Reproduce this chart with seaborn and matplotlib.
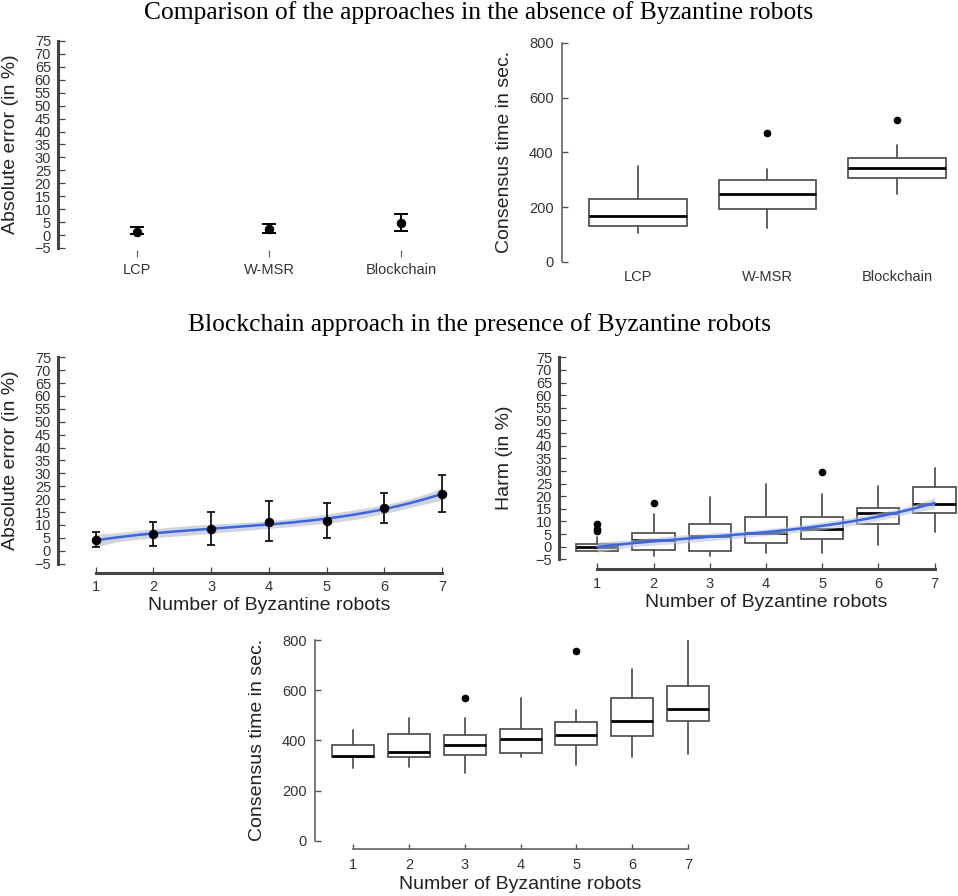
import numpy as np
import pandas as pd
import matplotlib
matplotlib.use("Agg")
import matplotlib.pyplot as plt
import seaborn as sns

# ---------------- data ----------------
methods = ["LCP", "W-MSR", "Blockchain"]
err_mean = [1.3, 2.3, 4.65]
err_low = [0.3, 0.9, 1.5]
err_high = [3.0, 4.4, 8.3]

time_q1 = [130, 194, 307]
time_med = [167, 249, 344]
time_q3 = [230, 299, 380]
time_lo = [106, 122, 246]
time_hi = [351, 340, 428]
time_out = [[], [469], [519]]

byz = [1, 2, 3, 4, 5, 6, 7]
byz_err_mean = [4.15, 6.4, 8.4, 11.1, 11.5, 16.5, 22.0]
byz_err_low = [1.3, 1.8, 2.2, 3.6, 4.8, 10.8, 14.9]
byz_err_high = [7.1, 11.1, 15.0, 19.4, 18.6, 22.5, 29.4]

harm_q1 = [-1.6, -1.3, -1.8, 1.3, 3.2, 9.1, 13.2]
harm_med = [-0.3, 2.5, 4.1, 5.6, 7.1, 13.4, 16.8]
harm_q3 = [0.9, 5.3, 9.0, 11.9, 11.9, 15.2, 23.8]
harm_lo = [-1.6, -3.7, -3.7, -2.6, -2.6, 0.8, 6.0]
harm_hi = [4.0, 13.1, 19.6, 24.9, 21.0, 24.1, 31.0]
harm_out = [[6.4, 6.9, 9.1], [17.3], [], [], [29.5], [], []]

bt_q1 = [335, 333, 341, 348, 383, 416, 476]
bt_med = [338, 352, 380, 404, 421, 476, 523]
bt_q3 = [380, 426, 420, 444, 473, 570, 616]
bt_lo = [288, 292, 271, 335, 302, 335, 345]
bt_hi = [441, 490, 490, 567, 521, 683, 803]
bt_out = [[], [], [567], [], [757], [], []]

title_top = "Comparison of the approaches in the absence of Byzantine robots"
title_mid = "Blockchain approach in the presence of Byzantine robots"
err_label = "Absolute error (in %)"
time_label = "Consensus time in sec."
harm_label = "Harm (in %)"
byz_label = "Number of Byzantine robots"

# ---------------- style ----------------
sns.set_theme(style="white")
plt.rcParams['font.family'] = ['Liberation Sans', 'DejaVu Sans']
plt.rcParams['axes.unicode_minus'] = True

W, H = 958, 896
fig = plt.figure(figsize=(W / 100, H / 100), dpi=100)

TICK_C = "#333333"
LAB_C = "#222222"
TICK_FS = 10.5
T_QUANT = 3.18  # t(0.975, df=3) for the smoother band


def add_ax(left, right, top, bottom):
    return fig.add_axes([left / W, 1 - bottom / H, (right - left) / W, (bottom - top) / H])


def bxp_stats(q1, med, q3, lo, hi, out):
    return [dict(q1=a, med=b, q3=c, whislo=d, whishi=e, fliers=f)
            for a, b, c, d, e, f in zip(q1, med, q3, lo, hi, out)]


def draw_boxes(ax, stats, positions, width):
    ax.bxp(stats, positions=positions, widths=width, showcaps=False,
           patch_artist=True,
           boxprops=dict(facecolor="white", edgecolor="#555555", linewidth=1.3),
           medianprops=dict(color="black", linewidth=2.0),
           whiskerprops=dict(color="#555555", linewidth=1.3),
           flierprops=dict(marker="o", markerfacecolor="black", markeredgecolor="black",
                           markersize=4.5, linestyle="none"))


def fit_curve(xv, yv, deg=3):
    xv = np.asarray(xv, float)
    yv = np.asarray(yv, float)
    coef, cov = np.polyfit(xv, yv, deg, cov=True)
    xs = np.linspace(xv.min(), xv.max(), 200)
    V = np.vander(xs, deg + 1)
    ys = V @ coef
    se = np.sqrt(np.einsum("ij,jk,ik->i", V, cov, V))
    return xs, ys, se


def thick_left_axis(ax):
    sns.despine(ax=ax, top=True, right=True)
    ax.spines['left'].set_linewidth(2.2)
    ax.spines['left'].set_color("#444444")
    ax.spines['left'].set_bounds(-5, 75)
    ax.set_yticks(np.arange(-5, 80, 5))
    ax.tick_params(axis='y', direction='in', length=5, width=0.9, color="#444444",
                   labelsize=TICK_FS, labelcolor=TICK_C, pad=5, left=True)


# ---------------- top-left: absolute error, no Byzantine ----------------
L, R, T, B = 58, 480, 41, 257
ax1 = add_ax(L, R, T, B)
ax1.set_xlim(0.4, 3.6)
ax1.set_ylim(-8.5, 75)
pos3 = np.arange(1, 4)
ax1.errorbar(pos3, err_mean,
             yerr=[np.array(err_mean) - np.array(err_low), np.array(err_high) - np.array(err_mean)],
             fmt='none', ecolor="black", elinewidth=1.4, capsize=5, capthick=1.4)
sns.scatterplot(x=pos3, y=err_mean, ax=ax1, color="black", s=40, edgecolor="black", zorder=3)
thick_left_axis(ax1)
ax1.spines['bottom'].set_visible(False)
ax1.set_xticks(pos3)
ax1.set_xticklabels(methods)
ax1.tick_params(axis='x', direction='in', length=5, width=0.9, color="#666666",
                labelsize=TICK_FS, labelcolor=TICK_C, pad=4, bottom=True)
ax1.set_ylabel(err_label, fontsize=14, color=LAB_C)
ax1.yaxis.set_label_coords((19 - L) / (R - L), (B - 144.5) / (B - T))

# ---------------- top-right: consensus time, no Byzantine ----------------
L, R, T, B = 562, 955, 43, 261.7
ax2 = add_ax(L, R, T, B)
draw_boxes(ax2, bxp_stats(time_q1, time_med, time_q3, time_lo, time_hi, time_out), pos3, 0.75)
ax2.set_xlim(0.413, 3.448)
ax2.set_ylim(0, 800)
sns.despine(ax=ax2, top=True, right=True, bottom=True)
ax2.spines['left'].set_linewidth(1.1)
ax2.spines['left'].set_color("#555555")
ax2.spines['left'].set_bounds(0, 800)
ax2.set_yticks([0, 200, 400, 600, 800])
ax2.set_xticks(pos3)
ax2.set_xticklabels(methods)
ax2.tick_params(axis='y', direction='in', length=4, width=1.0, color="#555555",
                labelsize=TICK_FS, labelcolor=TICK_C, pad=6, left=True)
ax2.tick_params(axis='x', length=0, labelsize=TICK_FS, labelcolor=TICK_C, pad=6)
ax2.set_ylabel(time_label, fontsize=14, color=LAB_C)
ax2.yaxis.set_label_coords((513 - L) / (R - L), 0.5)

# ---------------- middle-left: absolute error vs Byzantine ----------------
L, R, T, B = 58, 480, 357.3, 573.3
ax3 = add_ax(L, R, T, B)
ax3.set_xlim(0.347, 7.66)
ax3.set_ylim(-8.76, 75)
xs, ys, se = fit_curve(byz, byz_err_mean)
ax3.fill_between(xs, ys - T_QUANT * se, ys + T_QUANT * se, color="#c4c4c4", alpha=0.7, lw=0, zorder=1)
sns.lineplot(x=xs, y=ys, ax=ax3, color="#3366FF", lw=1.8, zorder=2)
ax3.errorbar(byz, byz_err_mean,
             yerr=[np.array(byz_err_mean) - np.array(byz_err_low),
                   np.array(byz_err_high) - np.array(byz_err_mean)],
             fmt='none', ecolor="#111111", elinewidth=1.3, capsize=3, capthick=1.3, zorder=3)
sns.scatterplot(x=byz, y=byz_err_mean, ax=ax3, color="black", s=40, edgecolor="black", zorder=4)
thick_left_axis(ax3)
ax3.spines['bottom'].set_linewidth(2.2)
ax3.spines['bottom'].set_color("#444444")
ax3.spines['bottom'].set_bounds(1, 7)
ax3.set_xticks(byz)
ax3.tick_params(axis='x', direction='in', length=4.5, width=0.9, color="#444444",
                labelsize=TICK_FS, labelcolor=TICK_C, pad=5, bottom=True)
ax3.set_ylabel(err_label, fontsize=14, color=LAB_C)
ax3.yaxis.set_label_coords((19 - L) / (R - L), (B - 460) / (B - T))
ax3.set_xlabel(byz_label, fontsize=14, color=LAB_C)
ax3.xaxis.set_label_coords((268.9 - L) / (R - L), (B - 597) / (B - T))

# ---------------- middle-right: harm vs Byzantine ----------------
L, R, T, B = 559, 957, 357.3, 569.3
ax4 = add_ax(L, R, T, B)
draw_boxes(ax4, bxp_stats(harm_q1, harm_med, harm_q3, harm_lo, harm_hi, harm_out), byz, 0.75)
ax4.set_xlim(0.318, 7.40)
ax4.set_ylim(-8.95, 75)
xs, ys, se = fit_curve(byz, harm_med)
ax4.fill_between(xs, ys - 1.96 * se, ys + 1.96 * se, color="#c4c4c4", alpha=0.6, lw=0, zorder=4)
sns.lineplot(x=xs, y=ys, ax=ax4, color="#3366FF", lw=1.8, zorder=5)
thick_left_axis(ax4)
ax4.spines['bottom'].set_linewidth(2.2)
ax4.spines['bottom'].set_color("#444444")
ax4.spines['bottom'].set_bounds(1, 7)
ax4.set_xticks(byz)
ax4.set_xticklabels([str(v) for v in byz])
ax4.tick_params(axis='x', direction='in', length=4.5, width=0.9, color="#444444",
                labelsize=TICK_FS, labelcolor=TICK_C, pad=5.5, bottom=True)
ax4.set_ylabel(harm_label, fontsize=14, color=LAB_C)
ax4.yaxis.set_label_coords((513 - L) / (R - L), (B - 458) / (B - T))
ax4.set_xlabel(byz_label, fontsize=14, color=LAB_C)
ax4.xaxis.set_label_coords((766 - L) / (R - L), (B - 594) / (B - T))

# ---------------- bottom: consensus time vs Byzantine ----------------
L, R, T, B = 315, 713, 640, 849.3
ax5 = add_ax(L, R, T, B)
draw_boxes(ax5, bxp_stats(bt_q1, bt_med, bt_q3, bt_lo, bt_hi, bt_out), byz, 0.75)
ax5.set_xlim(0.312, 7.45)
ax5.set_ylim(-34.3, 800)
sns.despine(ax=ax5, top=True, right=True)
for sp in ('left', 'bottom'):
    ax5.spines[sp].set_linewidth(1.1)
    ax5.spines[sp].set_color("#555555")
ax5.spines['left'].set_bounds(0, 800)
ax5.spines['bottom'].set_bounds(1, 7)
ax5.set_yticks([0, 200, 400, 600, 800])
ax5.set_xticks(byz)
ax5.set_xticklabels([str(v) for v in byz])
ax5.tick_params(axis='y', direction='in', length=4, width=1.0, color="#555555",
                labelsize=TICK_FS, labelcolor=TICK_C, pad=6, left=True)
ax5.tick_params(axis='x', direction='in', length=3.5, width=1.0, color="#555555",
                labelsize=TICK_FS, labelcolor=TICK_C, pad=6, bottom=True)
ax5.set_ylabel(time_label, fontsize=14, color=LAB_C)
ax5.yaxis.set_label_coords((266 - L) / (R - L), (B - 740) / (B - T))
ax5.set_xlabel(byz_label, fontsize=14, color=LAB_C)
ax5.xaxis.set_label_coords((520.5 - L) / (R - L), (B - 876) / (B - T))

# ---------------- titles ----------------
fig.text(479 / W, 1 - 13 / H, title_top, ha='center', va='center',
         fontsize=18.4, family=['Liberation Serif', 'DejaVu Serif'], color="black")
fig.text(479 / W, 1 - 325 / H, title_mid, ha='center', va='center',
         fontsize=18.4, family=['Liberation Serif', 'DejaVu Serif'], color="black")

fig.savefig("out.png", dpi=100, facecolor="white")
